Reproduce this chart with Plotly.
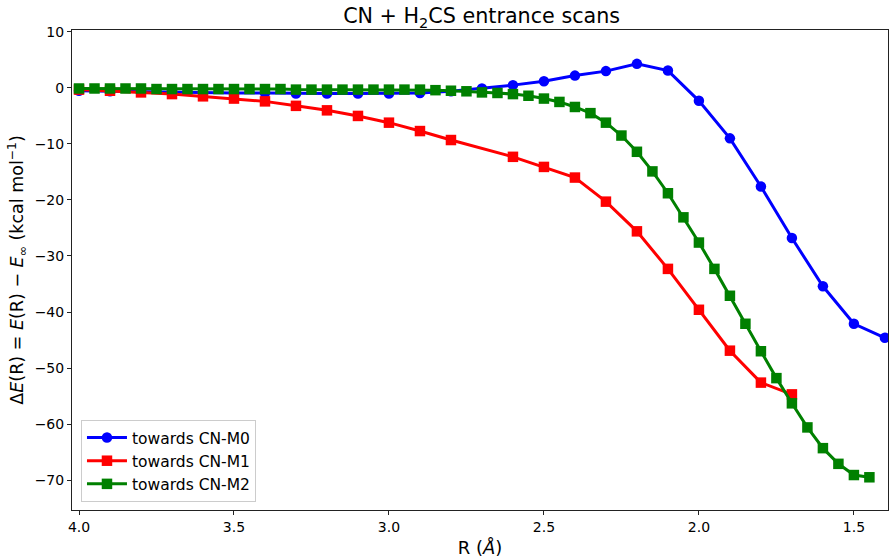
import plotly.graph_objects as go

# ---- data ----
r_m0 = [4.0, 3.9, 3.8, 3.7, 3.6, 3.5, 3.4, 3.3, 3.2, 3.1, 3.0, 2.9, 2.8, 2.7,
        2.6, 2.5, 2.4, 2.3, 2.2, 2.1, 2.0, 1.9, 1.8, 1.7, 1.6, 1.5, 1.4]
de_m0 = [-0.5, -0.6, -0.7, -0.8, -0.8, -0.9, -0.9, -1.0, -1.0, -1.0, -1.0, -0.9, -0.6, -0.1,
         0.5, 1.2, 2.2, 3.0, 4.3, 3.1, -2.3, -9.0, -17.6, -26.8, -35.4, -42.1, -44.6]

r_m1 = [4.0, 3.9, 3.8, 3.7, 3.6, 3.5, 3.4, 3.3, 3.2, 3.1, 3.0, 2.9, 2.8,
        2.6, 2.5, 2.4, 2.3, 2.2, 2.1, 2.0, 1.9, 1.8, 1.7]
de_m1 = [-0.3, -0.5, -0.8, -1.1, -1.5, -1.9, -2.4, -3.2, -4.0, -5.0, -6.2, -7.7, -9.3,
         -12.3, -14.1, -16.0, -20.3, -25.6, -32.3, -39.6, -46.9, -52.6, -54.7]

r_m2 = [4.0, 3.95, 3.9, 3.85, 3.8, 3.75, 3.7, 3.65, 3.6, 3.55, 3.5, 3.45, 3.4, 3.35,
        3.3, 3.25, 3.2, 3.15, 3.1, 3.05, 3.0, 2.95, 2.9, 2.85, 2.8, 2.75, 2.7, 2.65,
        2.6, 2.55, 2.5, 2.45, 2.4, 2.35, 2.3, 2.25, 2.2, 2.15, 2.1, 2.05, 2.0, 1.95,
        1.9, 1.85, 1.8, 1.75, 1.7, 1.65, 1.6, 1.55, 1.5, 1.45]
de_m2 = [-0.1, -0.1, -0.1, -0.1, -0.1, -0.2, -0.2, -0.2, -0.2, -0.2, -0.2, -0.2, -0.2, -0.2,
         -0.3, -0.3, -0.3, -0.3, -0.3, -0.3, -0.3, -0.3, -0.3, -0.4, -0.5, -0.6, -0.8, -0.9,
         -1.1, -1.4, -1.9, -2.5, -3.4, -4.5, -6.2, -8.5, -11.4, -14.9, -18.8, -23.1, -27.6, -32.3,
         -37.1, -42.1, -47.0, -51.8, -56.3, -60.6, -64.3, -67.1, -69.1, -69.5]

series_names = ["towards CN-M0", "towards CN-M1", "towards CN-M2"]
x_ticks = [4.0, 3.5, 3.0, 2.5, 2.0, 1.5]
y_ticks = [10, 0, -10, -20, -30, -40, -50, -60, -70]

FONT = "DejaVu Sans"

fig = go.Figure()
styles = [("#0000ff", "circle", 10.5), ("#ff0000", "square", 10.5), ("#008000", "square", 10.5)]
for (xs, ys), name, (col, sym, sz) in zip([(r_m0, de_m0), (r_m1, de_m1), (r_m2, de_m2)],
                                          series_names, styles):
    fig.add_trace(go.Scatter(
        x=xs, y=ys, mode="lines+markers", name=name,
        line=dict(color=col, width=3),
        marker=dict(color=col, symbol=sym, size=sz, line=dict(width=0)),
    ))

axis_common = dict(
    showline=True, mirror=True, linecolor="#222222", linewidth=1,
    ticks="outside", ticklen=4, tickwidth=1, tickcolor="#222222",
    showgrid=False, zeroline=False, automargin=False,
    tickfont=dict(family=FONT, size=14, color="black"),
)

W, H = 889, 558
fig.update_layout(
    width=W, height=H,
    paper_bgcolor="white", plot_bgcolor="white",
    margin=dict(l=72, r=1, t=30, b=48, autoexpand=False),
    font=dict(family=FONT, color="black"),
    title=dict(text="CN + H<sub>2</sub>CS entrance scans", x=0.502, xref="paper",
               y=1 - 16 / H, yref="container", xanchor="center", yanchor="middle",
               automargin=False,
               font=dict(family=FONT, size=20.7, color="black")),
    xaxis=dict(range=[4.0226, 1.39], tickvals=x_ticks, tickformat=".1f",
               title=dict(text="R (<i>Å</i>)", font=dict(family=FONT, size=18), standoff=10),
               **axis_common),
    yaxis=dict(range=[-75.34, 10.34], tickvals=y_ticks,
               title=dict(text="Δ<i>E</i>(R) = <i>E</i>(R) − <i>E</i><sub>∞</sub> (kcal mol<sup>−1</sup>)",
                          font=dict(family=FONT, size=17.5), standoff=6),
               **axis_common),
    legend=dict(x=0.011, y=0.0167, xanchor="left", yanchor="bottom",
                bgcolor="rgba(255,255,255,0.8)", bordercolor="#cccccc", borderwidth=1,
                itemwidth=40,
                font=dict(family=FONT, size=15.5, color="black")),
    showlegend=True,
)

fig.write_html("out.html",
               config={"displayModeBar": False},
               post_script="document.body.style.margin='0';document.body.style.overflow='hidden';")
